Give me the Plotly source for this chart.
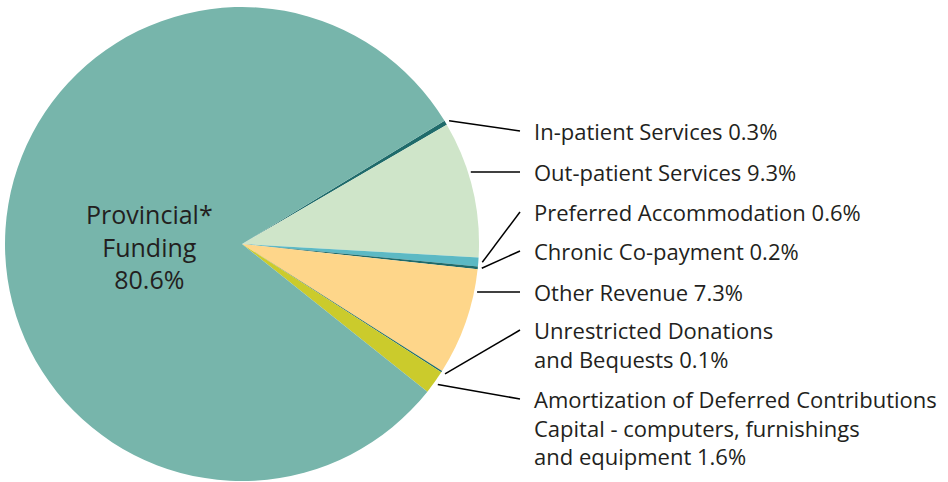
import math
import plotly.graph_objects as go

# ---- data ----
labels = ["In-patient Services", "Out-patient Services", "Preferred Accommodation",
          "Chronic Co-payment", "Other Revenue", "Unrestricted Donations and Bequests",
          "Amortization of Deferred Contributions Capital - computers, furnishings and equipment",
          "Provincial* Funding"]
values = [0.3, 9.3, 0.6, 0.2, 7.3, 0.1, 1.6, 80.6]
label_texts = ["In-patient Services 0.3%", "Out-patient Services 9.3%",
               "Preferred Accommodation 0.6%", "Chronic Co-payment 0.2%",
               "Other Revenue 7.3%", "Unrestricted Donations<br>and Bequests 0.1%",
               "Amortization of Deferred Contributions<br>Capital - computers, furnishings<br>and equipment 1.6%"]
colors = ["#1f6b6b", "#cfe5c9", "#5cb9c4", "#1f6b6b", "#fed68a", "#1f6b6b", "#cbcb2c", "#77b5ab"]

# ---- layout constants (pixels) ----
W, H = 948, 482
CX, CY, R = 242, 244, 237
START = 31.3  # math angle (deg) where first slice starts, going clockwise
label_x = 532
line_end_x = 520
label_y = [131, 172, 212, 251, 292, 344, 427]
horizontal = [False, True, False, False, True, False, False]
FONT = "Open Sans"
TXT = "#231f20"

def px(x):
    return x / W

def py(y):
    return 1 - y / H

fig = go.Figure(go.Pie(
    labels=labels, values=values, sort=False, direction="clockwise",
    rotation=90 - START, marker=dict(colors=colors, line=dict(width=0)),
    textinfo="none", hoverinfo="label+percent", showlegend=False,
    domain=dict(x=[px(CX - R), px(CX + R)], y=[py(CY + R), py(CY - R)]),
))

shapes = []
annotations = []
total = sum(values)
cum = 0.0
for i, t in enumerate(label_texts):
    v = values[i]
    mid = START - (cum + v / 2) / total * 360
    cum += v
    ly = label_y[i]
    if horizontal[i]:
        dy = ly - CY
        sx = CX + math.sqrt(R * R - dy * dy) + 3
        sy = ly
    else:
        a = math.radians(mid)
        sx = CX + (R + 4) * math.cos(a)
        sy = CY - (R + 4) * math.sin(a)
    ey = ly if t.count("<br>") == 0 else ly - 14 * t.count("<br>")
    shapes.append(dict(type="line", xref="paper", yref="paper",
                       x0=px(sx), y0=py(sy), x1=px(line_end_x), y1=py(ey),
                       line=dict(color="#000000", width=1.5)))
    annotations.append(dict(x=px(label_x), y=py(ly), xref="paper", yref="paper",
                            text=t, showarrow=False, xanchor="left", yanchor="middle",
                            align="left", font=dict(family=FONT, size=22, color=TXT)))

annotations.append(dict(x=px(149), y=py(247), xref="paper", yref="paper",
                        text="Provincial*<br>Funding<br>80.6%", showarrow=False,
                        xanchor="center", yanchor="middle", align="center",
                        font=dict(family=FONT, size=25, color=TXT)))

fig.update_layout(width=W, height=H, margin=dict(l=0, r=0, t=0, b=0),
                  paper_bgcolor="white", plot_bgcolor="white",
                  shapes=shapes, annotations=annotations)
fig.write_html("out.html", config={"displayModeBar": False},
               post_script="document.body.style.margin='0';document.body.style.overflow='hidden';")
